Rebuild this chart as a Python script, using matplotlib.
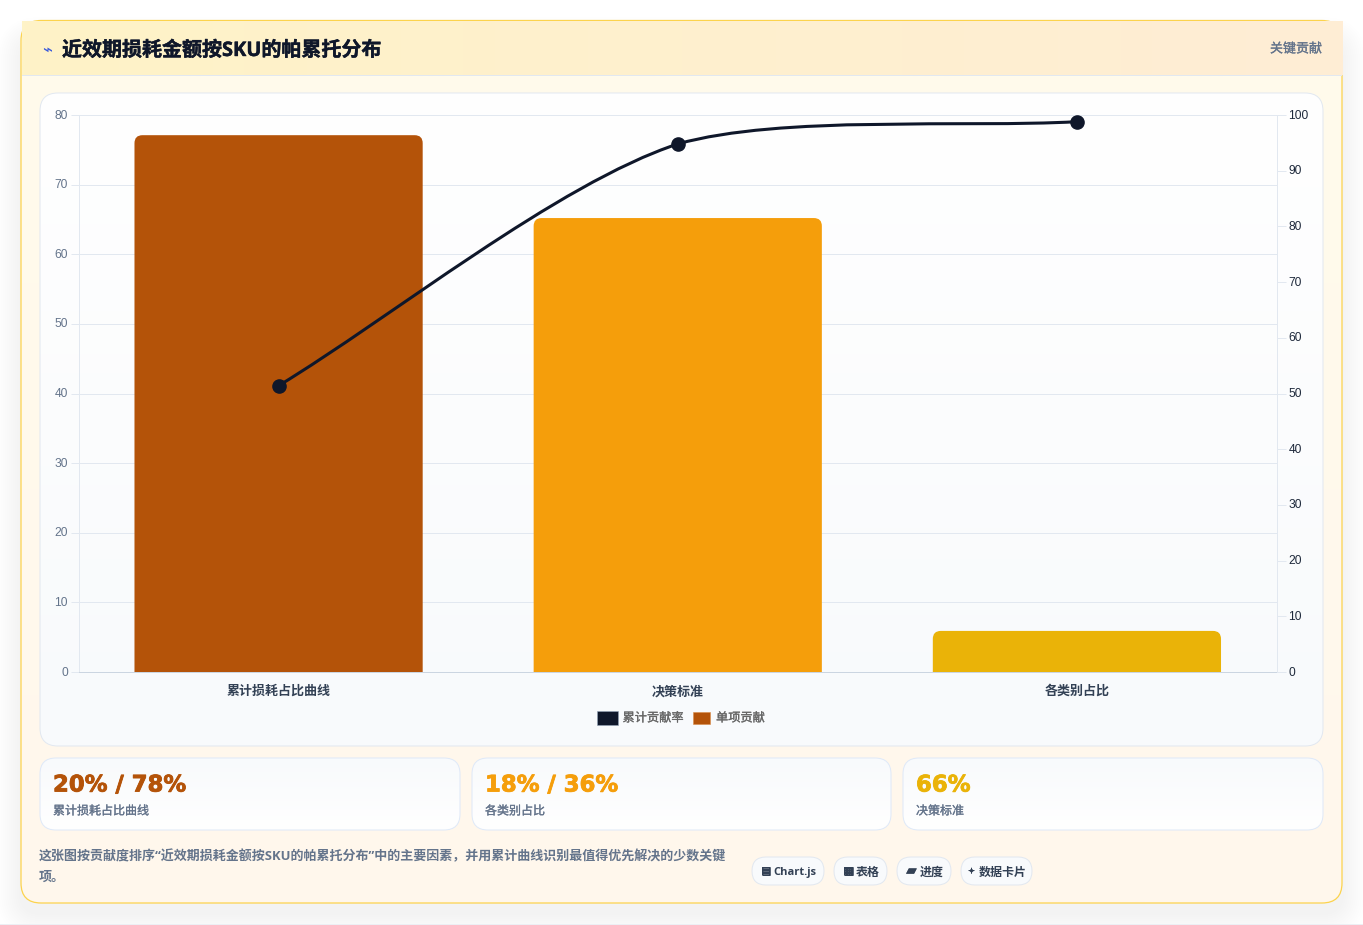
import numpy as np
import matplotlib
matplotlib.use("Agg")
import matplotlib.pyplot as plt
import matplotlib.patheffects as pe
from matplotlib.patches import FancyBboxPatch, Rectangle, PathPatch
from matplotlib.path import Path
from matplotlib.transforms import IdentityTransform, ScaledTranslation

W, H = 1363, 925
CJK = ['Open Sans', 'Noto Sans CJK SC', 'DejaVu Sans']
LW = 0.72  # 1 像素

# 数据
categories = ["累计损耗占比曲线", "决策标准", "各类别占比"]
bar_values = [77.1, 65.2, 5.9]
cum_values = [51.4, 94.8, 98.8]
bar_colors = ["#b45309", "#f59e0b", "#eab308"]
line_color = "#0f172a"
left_ticks = list(range(0, 90, 10))
right_ticks = list(range(0, 110, 10))

title = "近效期损耗金额按SKU的帕累托分布"
badge = "关键贡献"
legend_labels = ["累计贡献率", "单项贡献"]
stat_values = ["20% / 78%", "18% / 36%", "66%"]
stat_labels = ["累计损耗占比曲线", "各类别占比", "决策标准"]
stat_colors = ["#b45309", "#f59e0b", "#eab308"]
note_lines = ["这张图按贡献度排序“近效期损耗金额按SKU的帕累托分布”中的主要因素，并用累计曲线识别最值得优先解决的少数关键",
              "项。"]
chip_icons = ["▤", "▦", "▰", "✦"]
chip_texts = ["Chart.js", "表格", "进度", "数据卡片"]
chip_edges = [(752, 824), (834, 887), (897, 951), (961, 1032)]
chip_icon_x = [766, 848.5, 911.5, 971.5]
chip_icon_size = [7.5, 8, 9.5, 5.5]
chip_text_x = [773, 856, 920, 979]
chip_text_size = [8.0, 8.64, 8.64, 8.64]


def px(x, y, w, h):
    # 像素框转 figure 坐标
    return [x / W, 1 - (y + h) / H, w / W, h / H]


def heavy(color, w=0.2):
    # 给文字加一点描边，笔画更实
    return [pe.Stroke(linewidth=w, foreground=color), pe.Normal()]


def round_box(ax, x0, y0, x1, y1, r, fc="none", ec="none", lw=LW, alpha=None, z=1):
    p = FancyBboxPatch((x0 + r, y0 + r), x1 - x0 - 2 * r, y1 - y0 - 2 * r,
                       boxstyle=f"round,pad={r},rounding_size={r}",
                       fc=fc, ec=ec, lw=lw, alpha=alpha, zorder=z)
    ax.add_patch(p)
    return p


def gradient(ax, patch, x0, y0, x1, y1, c0, c1, vertical=True, z=1.5):
    c0 = np.array(matplotlib.colors.to_rgb(c0))
    c1 = np.array(matplotlib.colors.to_rgb(c1))
    t = np.linspace(0, 1, 256)
    row = np.outer(t, c1 - c0) + c0
    img = row[:, None, :] if vertical else row[None, :, :]
    im = ax.imshow(img, extent=(x0, x1, y1, y0), aspect="auto", zorder=z, interpolation="bilinear")
    if patch is not None:
        im.set_clip_path(patch)
    return im


fig = plt.figure(figsize=(W / 100, H / 100), dpi=100, facecolor="white")

# 背景层，坐标单位为像素
bg = fig.add_axes([0, 0, 1, 1], zorder=0)
bg.set_xlim(0, W)
bg.set_ylim(H, 0)
bg.axis("off")

# 卡片阴影，向下偏移
for i in range(12):
    g = 24 - i * 2
    round_box(bg, 21 - g, 41 - g, 1342 + g, 913 + g, 20 + g, fc="#475569", alpha=0.005, z=0.5)
bg.add_patch(Rectangle((0, 924), W, 1, fc="#eceff4", ec="none", zorder=0.6))

# 卡片主体
card = round_box(bg, 21, 21, 1342, 903, 20, fc="#fffbeb", z=1)
gradient(bg, card, 21, 75, 1342, 903, "#fffbeb", "#fff7ed")
round_box(bg, 21, 20.5, 1342, 903, 20, ec="#fcd34d", lw=0.9, z=2.2)

# 标题栏
header = Rectangle((21.5, 21), 1320.5, 54, fc="none", ec="none")
bg.add_patch(header)
gradient(bg, header, 21.5, 21, 1342, 75, "#fef3c7", "#ffedd5", vertical=False, z=2.4)
bg.add_patch(Rectangle((21.5, 75), 1320.5, 1, fc="#e2e8f0", ec="none", zorder=2.5))
bg.text(47.5, 50, "⌁", fontsize=12, color="#3b5bdb", ha="center", va="center",
        family=['DejaVu Sans'], zorder=3)
bg.text(62, 51, title, fontsize=14.4, fontweight="bold", color=line_color, ha="left", va="center",
        family=CJK, zorder=3, path_effects=heavy(line_color, 0.3))
bg.text(1322, 49, badge, fontsize=9.36, color="#64748b", ha="right", va="center", family=CJK, zorder=3,
        path_effects=heavy("#64748b"))

# 图表面板
panel = round_box(bg, 40, 93, 1323, 746, 18, fc="white", z=2.6)
gradient(bg, panel, 40, 93, 1323, 746, "#ffffff", "#f8fafc", z=2.7)
round_box(bg, 40, 93, 1323, 746, 18, ec="#e2e8f0", z=2.8)

# 指标卡片
stat_edges = [(40, 460), (472, 891), (903, 1323)]
for (x0, x1), val, lab, col in zip(stat_edges, stat_values, stat_labels, stat_colors):
    box = round_box(bg, x0, 758, x1, 830, 16, fc="white", z=2.6)
    gradient(bg, box, x0, 758, x1, 830, "#f8fafc", "#ffffff", z=2.7)
    round_box(bg, x0, 758, x1, 830, 16, ec="#dfe9f8", z=2.8)
    bg.text(x0 + 13, 785, val, fontsize=16.4, fontweight="bold", color=col, ha="left", va="center",
            family=['DejaVu Sans'], zorder=3, path_effects=heavy(col, 0.6))
    bg.text(x0 + 13, 811, lab, fontsize=8.64, color="#64748b", ha="left", va="center", family=CJK, zorder=3,
            path_effects=heavy("#64748b"))

# 说明文字
for i, line in enumerate(note_lines):
    bg.text(39, 857 + i * 20.5, line, fontsize=9.36, fontweight="bold", color="#64748b", ha="left",
            va="center", family=CJK, zorder=3)

# 标签
for (x0, x1), icon, txt, ix, tx, isz, tsz in zip(chip_edges, chip_icons, chip_texts, chip_icon_x, chip_text_x,
                                                 chip_icon_size, chip_text_size):
    round_box(bg, x0, 857, x1, 885, 14, fc="#f8fafc", ec="#e2e8f0", z=2.6)
    bg.text(ix, 871, icon, fontsize=isz, color="#334155", ha="center", va="center",
            family=['DejaVu Sans'], zorder=3, path_effects=heavy("#334155", 0.4))
    bg.text(tx, 872, txt, fontsize=tsz, fontweight="bold", color="#334155", ha="left", va="center",
            family=CJK, zorder=3)

# 主图
ax = fig.add_axes(px(79, 115, 1197.5, 557), zorder=2)
ax.patch.set_alpha(0)
ax.set_xlim(-0.5, 2.5)
ax.set_ylim(0, 80)
x = np.arange(len(categories))
for xi, v, c in zip(x, bar_values, bar_colors):
    w = 0.722
    r_x, r_y = 8 / 399, 8 / (557 / 80)
    verts = [(xi - w / 2, 0), (xi - w / 2, v - r_y), (xi - w / 2, v), (xi - w / 2 + r_x, v),
             (xi + w / 2 - r_x, v), (xi + w / 2, v), (xi + w / 2, v - r_y), (xi + w / 2, 0), (xi - w / 2, 0)]
    codes = [Path.MOVETO, Path.LINETO, Path.CURVE3, Path.CURVE3, Path.LINETO, Path.CURVE3, Path.CURVE3,
             Path.LINETO, Path.CLOSEPOLY]
    ax.add_patch(PathPatch(Path(verts, codes), fc=c, ec="none", zorder=3))

up_1px = ScaledTranslation(0, 1 / 100, fig.dpi_scale_trans)

ax.set_yticks(left_ticks)
ax.set_xticks(x)
ax.set_xticklabels(categories, fontsize=9.36, fontweight="bold", color="#334155", family=CJK)
ax.tick_params(axis="x", length=0, pad=9.5)
ax.tick_params(axis="y", length=5.8, width=LW, color="#e2e8f0", labelsize=8.64, labelcolor="#64748b", pad=2.2)
for lab in ax.get_yticklabels():
    lab.set_family("Liberation Sans")
    lab.set_transform(lab.get_transform() + up_1px)
ax.grid(axis="y", color="#e2e8f0", lw=LW, zorder=1)
ax.set_axisbelow(True)
for s in ["top", "right"]:
    ax.spines[s].set_visible(False)
ax.spines["left"].set_color("#e2e8f0")
ax.spines["left"].set_linewidth(LW)
ax.spines["bottom"].set_color("#cbd5e1")
ax.spines["bottom"].set_linewidth(LW)

# 累计曲线，右轴
ax2 = ax.twinx()
ax2.patch.set_alpha(0)
ax2.set_ylim(0, 100)
ax2.set_yticks(right_ticks)
ax2.tick_params(axis="y", length=6.3, width=LW, color="#e2e8f0", labelsize=8.64, labelcolor="#1e293b", pad=2.2)
for lab in ax2.get_yticklabels():
    lab.set_family("Liberation Sans")
    lab.set_transform(lab.get_transform() + up_1px)
for s in ["top", "left", "bottom"]:
    ax2.spines[s].set_visible(False)
ax2.spines["right"].set_color("#e2e8f0")
ax2.spines["right"].set_linewidth(LW)

# 样条控制点在屏幕坐标下计算，控制点限制在绘图区内
fig.canvas.draw()
pts = ax2.transData.transform(np.column_stack([x, cum_values]))
top_px = ax2.transData.transform((0, 100))[1]
bottom_px = ax2.transData.transform((0, 0))[1]
tension = 0.28
ctrl_in = []
ctrl_out = []
for i, cur in enumerate(pts):
    prev = pts[max(i - 1, 0)]
    nxt = pts[min(i + 1, len(pts) - 1)]
    d01 = np.hypot(*(cur - prev))
    d12 = np.hypot(*(nxt - cur))
    s = d01 / (d01 + d12)
    ctrl_in.append(cur - tension * s * (nxt - prev))
    ctrl_out.append(cur + tension * (1 - s) * (nxt - prev))
ctrl_in = np.array(ctrl_in)
ctrl_out = np.array(ctrl_out)
ctrl_in[:, 1] = np.clip(ctrl_in[:, 1], bottom_px, top_px)
ctrl_out[:, 1] = np.clip(ctrl_out[:, 1], bottom_px, top_px)
verts = [pts[0]]
codes = [Path.MOVETO]
for i in range(1, len(pts)):
    verts += [ctrl_out[i - 1], ctrl_in[i], pts[i]]
    codes += [Path.CURVE4] * 3
ax2.add_patch(PathPatch(Path(verts, codes), fc="none", ec=line_color, lw=2.2, transform=IdentityTransform(),
                        zorder=4, capstyle="round"))
ax2.plot(x, cum_values, ls="none", marker="o", ms=9.5, color=line_color, zorder=5)

# 图例
fg = fig.add_axes([0, 0, 1, 1], zorder=5)
fg.set_xlim(0, W)
fg.set_ylim(H, 0)
fg.axis("off")
fg.add_patch(Rectangle((597, 711), 21, 14, fc=line_color, ec="#94a3b8", lw=0.4))
fg.add_patch(Rectangle((692.5, 712), 17.5, 12, fc=bar_colors[0], ec="#d98c4a", lw=0.4))
fg.text(622.5, 718, legend_labels[0], fontsize=8.8, color="#666666", ha="left", va="center", family=CJK,
        path_effects=heavy("#666666"))
fg.text(716, 718, legend_labels[1], fontsize=8.8, color="#666666", ha="left", va="center", family=CJK,
        path_effects=heavy("#666666"))

fig.savefig("out.png", dpi=100)
